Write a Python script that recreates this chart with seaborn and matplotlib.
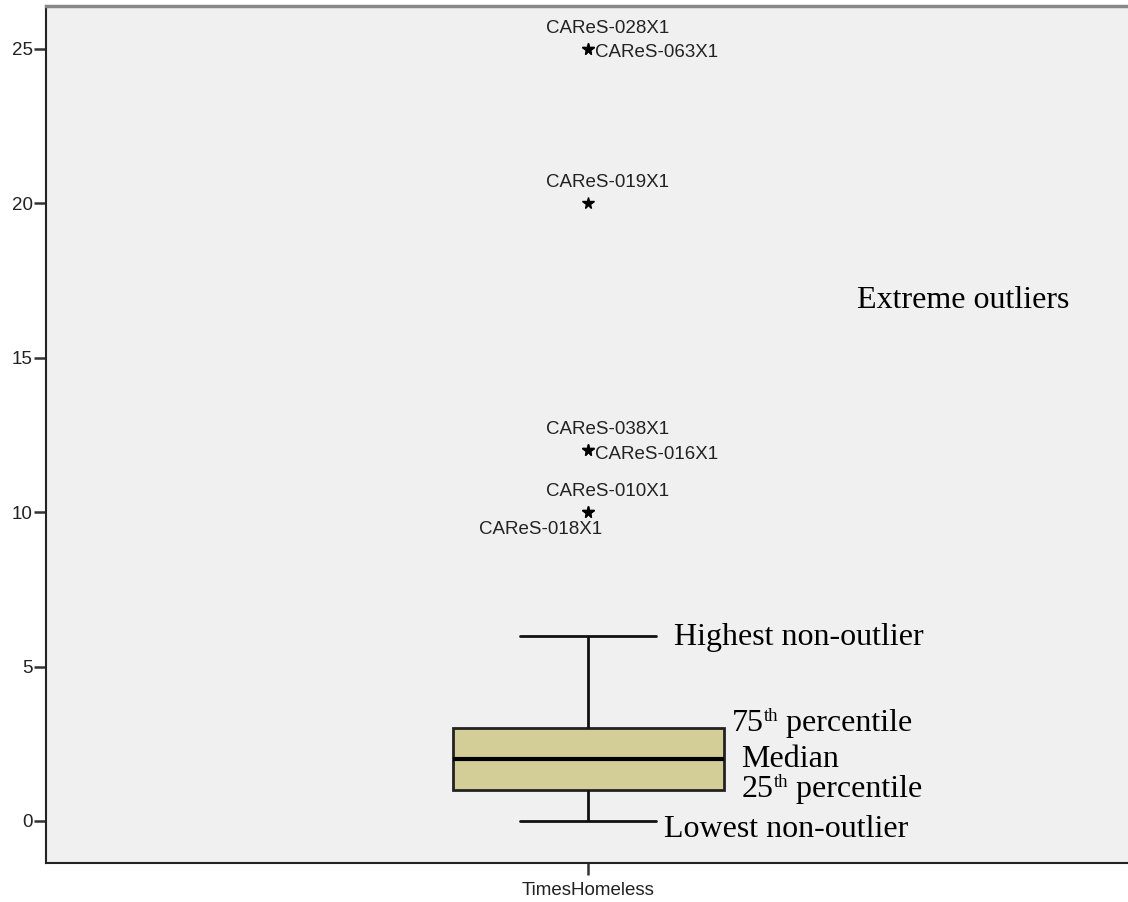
import matplotlib
matplotlib.use("Agg")
import matplotlib.pyplot as plt
import matplotlib.transforms as mtransforms
import seaborn as sns
import pandas as pd
import numpy as np

# ---- data (value -> count), consistent with five-number summary 0 / 1 / 2 / 3 / 6
values = [0, 1, 2, 3, 4, 5, 6, 10, 12, 20, 25]
counts = [5, 12, 12, 14, 3, 2, 2, 2, 2, 1, 2]
variable = "TimesHomeless"

# outlier labels
outlier_values = [25, 25, 20, 12, 12, 10, 10]
outlier_labels = ["CAReS-028X1", "CAReS-063X1", "CAReS-019X1",
                  "CAReS-038X1", "CAReS-016X1", "CAReS-010X1", "CAReS-018X1"]
outlier_place = ["above", "right", "above", "above", "right", "above", "leftbelow"]

yticks = [0, 5, 10, 15, 20, 25]

# annotations: (main text, superscript, remaining text)
annot_main = ["Extreme outliers", "Highest non-outlier", "75", "Median", "25", "Lowest non-outlier"]
annot_sup = ["", "", "th", "", "th", ""]
annot_rest = ["", "", " percentile", "", " percentile", ""]
annot_y = [16.61, 5.70, 2.92, 1.75, 0.77, -0.51]
annot_x = [0.7477, 0.5795, 0.6322, 0.6414, 0.6414, 0.5702]

df = pd.DataFrame({variable: np.repeat(values, counts)})

sns.set_theme(style="white")
plt.rcParams["font.family"] = ["Liberation Sans", "DejaVu Sans"]

fig = plt.figure(figsize=(11.28, 9.02), dpi=100)
ax = fig.add_axes([46 / 1128, 39 / 902, 1 - 46 / 1128 + 0.002, (863 - 6) / 902])
ax.set_facecolor("#F0F0F0")

sns.boxplot(data=df, y=variable, ax=ax, width=0.25, color="#D3CE97",
            saturation=1, whis=1.5,
            boxprops=dict(edgecolor="#222222", linewidth=2),
            whiskerprops=dict(color="#111111", linewidth=2),
            capprops=dict(color="#111111", linewidth=2),
            medianprops=dict(color="black", linewidth=3),
            flierprops=dict(marker="*", markersize=8.5, markerfacecolor="black",
                            markeredgecolor="black", linestyle="none"))

ax.set_xlim(-0.5, 0.5)
ax.set_ylim(-1.36, 26.39)
ax.set_yticks(yticks)
ax.set_yticklabels([str(v) for v in yticks], fontsize=13.5, color="#222222")
ax.set_xticks([0])
ax.set_xticklabels([variable], fontsize=13.5, color="#222222")
ax.set_ylabel("")
ax.set_xlabel("")
ax.tick_params(axis="y", which="major", direction="out", length=8.5, width=1.8,
               color="#333333", left=True, pad=1)
ax.tick_params(axis="x", which="major", direction="out", length=8.5, width=1.8,
               color="#333333", bottom=True, pad=5)

for s in ["left", "bottom"]:
    ax.spines[s].set_color("#222222")
    ax.spines[s].set_linewidth(1.5)
ax.spines["top"].set_color("#888888")
ax.spines["top"].set_linewidth(2.5)
ax.spines["right"].set_visible(False)

for v, lab, pl in zip(outlier_values, outlier_labels, outlier_place):
    if pl == "above":
        ax.annotate(lab, (0, v), xytext=(-30.2, 14.8), textcoords="offset points",
                    ha="left", va="center", fontsize=13.5, color="#222222")
    elif pl == "right":
        ax.annotate(lab, (0, v), xytext=(5, -2.9), textcoords="offset points",
                    ha="left", va="center", fontsize=13.5, color="#222222")
    else:
        ax.annotate(lab, (0, v), xytext=(10, -12.2), textcoords="offset points",
                    ha="right", va="center", fontsize=13.5, color="#222222")

serif = ["Liberation Serif", "DejaVu Serif"]
ytrans = ax.get_yaxis_transform()
fig.canvas.draw()
renderer = fig.canvas.get_renderer()


def right_edge_axes(txt):
    x1 = txt.get_window_extent(renderer).x1
    return ax.transAxes.inverted().transform((x1, 0))[0]


for main, sup, rest, x, y in zip(annot_main, annot_sup, annot_rest, annot_x, annot_y):
    t1 = ax.text(x, y, main, transform=ytrans, ha="left", va="baseline",
                 fontsize=23, family=serif, color="black")
    if sup:
        xs = right_edge_axes(t1)
        t2 = ax.text(xs, y, sup, ha="left", va="baseline", fontsize=13.5,
                     family=serif, color="black",
                     transform=mtransforms.offset_copy(ytrans, fig=fig, y=7, units="points"))
        xr = right_edge_axes(t2)
        ax.text(xr, y, rest, transform=ytrans, ha="left", va="baseline",
                fontsize=23, family=serif, color="black")

fig.savefig("out.png", dpi=100)
